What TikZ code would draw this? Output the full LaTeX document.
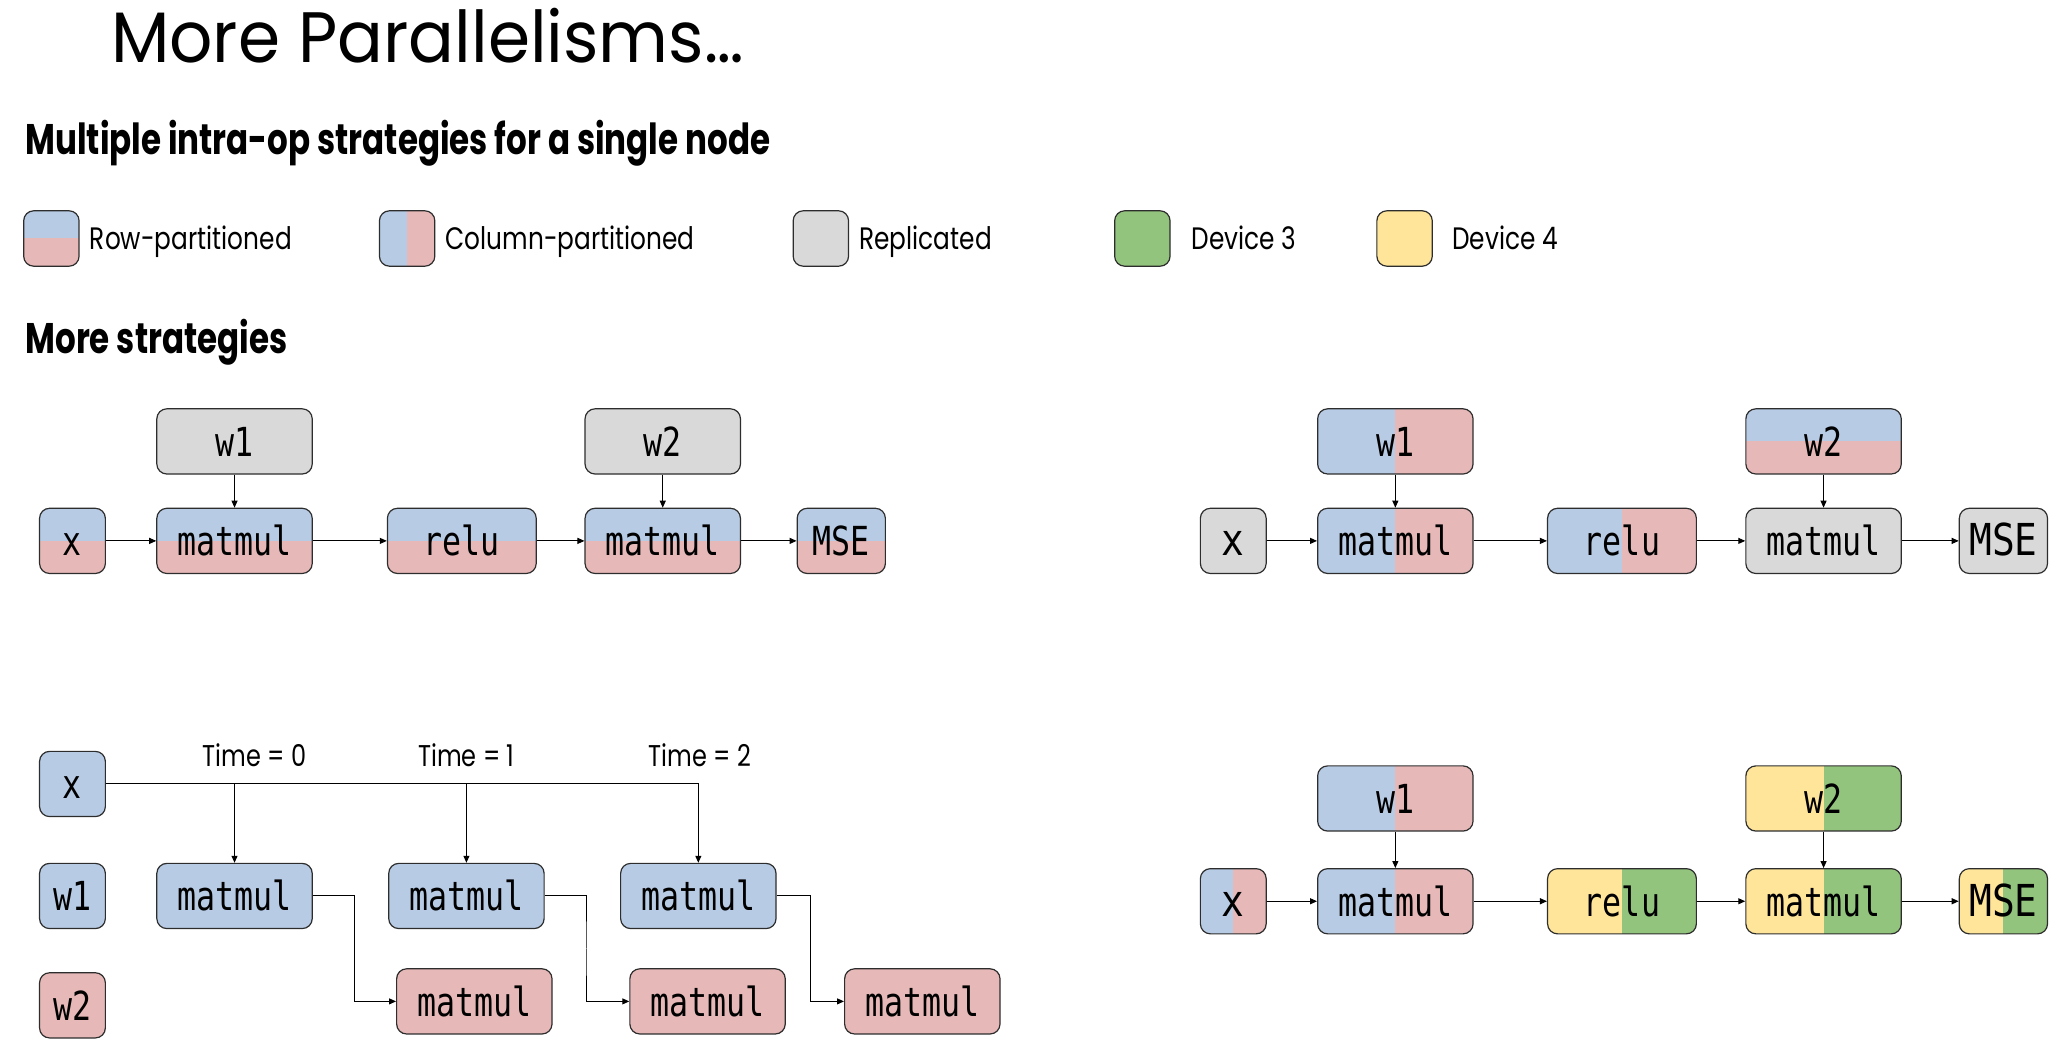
\documentclass[tikz,border=0pt]{standalone}
\usepackage{fontspec}
\setmainfont{Poppins}
\newfontfamily\titlefont[FakeStretch=0.95]{Poppins}
\newfontfamily\headfont[FakeStretch=0.76]{Poppins}
\newfontfamily\labelfont[FakeStretch=0.8]{Poppins}
\newfontfamily\codefont[FakeStretch=0.79]{DejaVu Sans Mono}
\newfontfamily\bigcodefont[FakeStretch=0.86]{DejaVu Sans Mono}
\usetikzlibrary{calc, arrows.meta}

\definecolor{rowblue}{RGB}{183,203,228}
\definecolor{rowpink}{RGB}{230,184,183}
\definecolor{repgrey}{RGB}{217,217,217}
\definecolor{devgreen}{RGB}{147,196,125}
\definecolor{devyellow}{RGB}{255,229,153}
\definecolor{edgegrey}{RGB}{45,45,45}

\begin{document}
\begin{tikzpicture}[x=0.6588pt, y=-0.6588pt,
	op/.style={draw=edgegrey, line width=0.6pt, rounded corners=5pt, inner sep=0pt,
		minimum height=32.6pt, text height=15pt, text depth=0pt,
		font=\codefont\fontsize{20}{20}\selectfont},
	big/.style={font=\bigcodefont\fontsize{22}{22}\selectfont},
	wide/.style={minimum width=77.7pt},
	mid/.style={minimum width=74.4pt},
	small/.style={minimum width=32.9pt},
	loss/.style={minimum width=44.1pt},
	key/.style={draw=edgegrey, line width=0.6pt, rounded corners=5pt,
		minimum width=27.7pt, minimum height=27.7pt, inner sep=0pt},
	keytext/.style={anchor=base west, inner sep=0pt, font=\labelfont\fontsize{15.5}{15.5}\selectfont},
	timetext/.style={anchor=base, inner sep=0pt, font=\labelfont\fontsize{15}{15}\selectfont},
	rows/.style 2 args={path picture={
		\fill[#1, sharp corners] (path picture bounding box.north west) rectangle (path picture bounding box.east);
		\fill[#2, sharp corners] (path picture bounding box.west) rectangle (path picture bounding box.south east);}},
	cols/.style 2 args={path picture={
		\fill[#1, sharp corners] (path picture bounding box.north west) rectangle (path picture bounding box.south);
		\fill[#2, sharp corners] (path picture bounding box.north) rectangle (path picture bounding box.south east);}},
	flow/.style={line width=0.5pt, -{Triangle[length=3.5pt, width=3pt]}}
	]
	\useasboundingbox (0,0) rectangle (1568,793);

	\def\rowA{410.5};
	\def\wA{335};
	\def\rowB{684};
	\def\wB{606};

	% titles
	\node[anchor=base west, inner sep=0pt, font=\titlefont\fontsize{35.7}{35.7}\selectfont] (title) at (84,47.8) {More Parallelisms…};
	\node[anchor=base west, inner sep=0pt, font=\headfont\bfseries\fontsize{21.4}{21.4}\selectfont] (head1) at (19,117.6) {Multiple intra-op strategies for a single node};
	\node[anchor=base west, inner sep=0pt, font=\headfont\bfseries\fontsize{21.4}{21.4}\selectfont] (head2) at (19,268) {More strategies};

	% legend
	\begin{scope}
		\node[key, rows={rowblue}{rowpink}] (keyrow) at (39,181) {};
		\node[keytext] (keyrowtxt) at (68,189.7) {Row-partitioned};
		\node[key, cols={rowblue}{rowpink}] (keycol) at (309,181) {};
		\node[keytext] (keycoltxt) at (338,189.7) {Column-partitioned};
		\node[key, fill=repgrey] (keyrep) at (623,181) {};
		\node[keytext] (keyreptxt) at (652,189.7) {Replicated};
		\node[key, fill=devgreen] (keydev3) at (867,181) {};
		\node[keytext] (keydev3txt) at (904,189.7) {Device 3};
		\node[key, fill=devyellow] (keydev4) at (1066,181) {};
		\node[keytext] (keydev4txt) at (1102,189.7) {Device 4};
	\end{scope}

	% top left: row-partitioned
	\begin{scope}
		\node[op, small, rows={rowblue}{rowpink}] (xa) at (55,\rowA) {x};
		\node[op, wide, rows={rowblue}{rowpink}] (mma1) at (178,\rowA) {matmul};
		\node[op, wide, fill=repgrey] (w1a) at (178,\wA) {w1};
		\node[op, mid, rows={rowblue}{rowpink}] (relua) at (350.5,\rowA) {relu};
		\node[op, wide, rows={rowblue}{rowpink}] (mma2) at (503,\rowA) {matmul};
		\node[op, wide, fill=repgrey] (w2a) at (503,\wA) {w2};
		\node[op, loss, rows={rowblue}{rowpink}] (msea) at (638.5,\rowA) {MSE};
	\end{scope}

	\begin{scope}[flow]
		\draw (xa) -- (mma1);
		\draw (mma1) -- (relua);
		\draw (relua) -- (mma2);
		\draw (mma2) -- (msea);
		\draw (w1a) -- (mma1);
		\draw (w2a) -- (mma2);
	\end{scope}

	% top right: column then row
	\begin{scope}
		\node[op, small, big, fill=repgrey] (xb) at (936,\rowA) {x};
		\node[op, wide, cols={rowblue}{rowpink}] (mmb1) at (1059,\rowA) {matmul};
		\node[op, wide, cols={rowblue}{rowpink}] (w1b) at (1059,\wA) {w1};
		\node[op, mid, cols={rowblue}{rowpink}] (relub) at (1231,\rowA) {relu};
		\node[op, wide, fill=repgrey] (mmb2) at (1384,\rowA) {matmul};
		\node[op, wide, rows={rowblue}{rowpink}] (w2b) at (1384,\wA) {w2};
		\node[op, loss, big, fill=repgrey] (mseb) at (1520.5,\rowA) {MSE};
	\end{scope}

	\begin{scope}[flow]
		\draw (xb) -- (mmb1);
		\draw (mmb1) -- (relub);
		\draw (relub) -- (mmb2);
		\draw (mmb2) -- (mseb);
		\draw (w1b) -- (mmb1);
		\draw (w2b) -- (mmb2);
	\end{scope}

	% bottom left: pipelined over time
	\begin{scope}
		\node[op, small, fill=rowblue] (xc) at (55,595) {x};
		\node[op, small, fill=rowblue] (w1c) at (55,680) {w1};
		\node[op, small, fill=rowpink] (w2c) at (55,763) {w2};
		\node[op, wide, fill=rowblue] (mmc1) at (178,680) {matmul};
		\node[op, wide, fill=rowblue] (mmc2) at (354,680) {matmul};
		\node[op, wide, fill=rowblue] (mmc3) at (530,680) {matmul};
		\node[op, wide, fill=rowpink] (mmd1) at (360,760) {matmul};
		\node[op, wide, fill=rowpink] (mmd2) at (537,760) {matmul};
		\node[op, wide, fill=rowpink] (mmd3) at (700,760) {matmul};
		\node[timetext] (t0) at (193,582) {Time = 0};
		\node[timetext] (t1) at (354,582) {Time = 1};
		\node[timetext] (t2) at (531,582) {Time = 2};
	\end{scope}

	\begin{scope}[flow]
		\draw (xc.east) -| (mmc1.north);
		\draw (xc.east) -| (mmc2.north);
		\draw (xc.east) -| (mmc3.north);
		\draw (mmc1.east) -| ($(mmc1.east)!0.5!(mmd1.west)$) |- (mmd1.west);
		\draw (mmc2.east) -| ($(mmc2.east)!0.5!(mmd2.west)$) |- (mmd2.west);
		\draw (mmc3.east) -| ($(mmc3.east)!0.5!(mmd3.west)$) |- (mmd3.west);
	\end{scope}

	% bottom right: devices 3 and 4
	\begin{scope}
		\node[op, small, big, cols={rowblue}{rowpink}] (xd) at (936,\rowB) {x};
		\node[op, wide, cols={rowblue}{rowpink}] (mme1) at (1059,\rowB) {matmul};
		\node[op, wide, cols={rowblue}{rowpink}] (w1d) at (1059,\wB) {w1};
		\node[op, mid, cols={devyellow}{devgreen}] (relud) at (1231,\rowB) {relu};
		\node[op, wide, cols={devyellow}{devgreen}] (mme2) at (1384,\rowB) {matmul};
		\node[op, wide, cols={devyellow}{devgreen}] (w2d) at (1384,\wB) {w2};
		\node[op, loss, big, cols={devyellow}{devgreen}] (msed) at (1520.5,\rowB) {MSE};
	\end{scope}

	\begin{scope}[flow]
		\draw (xd) -- (mme1);
		\draw (mme1) -- (relud);
		\draw (relud) -- (mme2);
		\draw (mme2) -- (msed);
		\draw (w1d) -- (mme1);
		\draw (w2d) -- (mme2);
	\end{scope}
\end{tikzpicture}
\end{document}
